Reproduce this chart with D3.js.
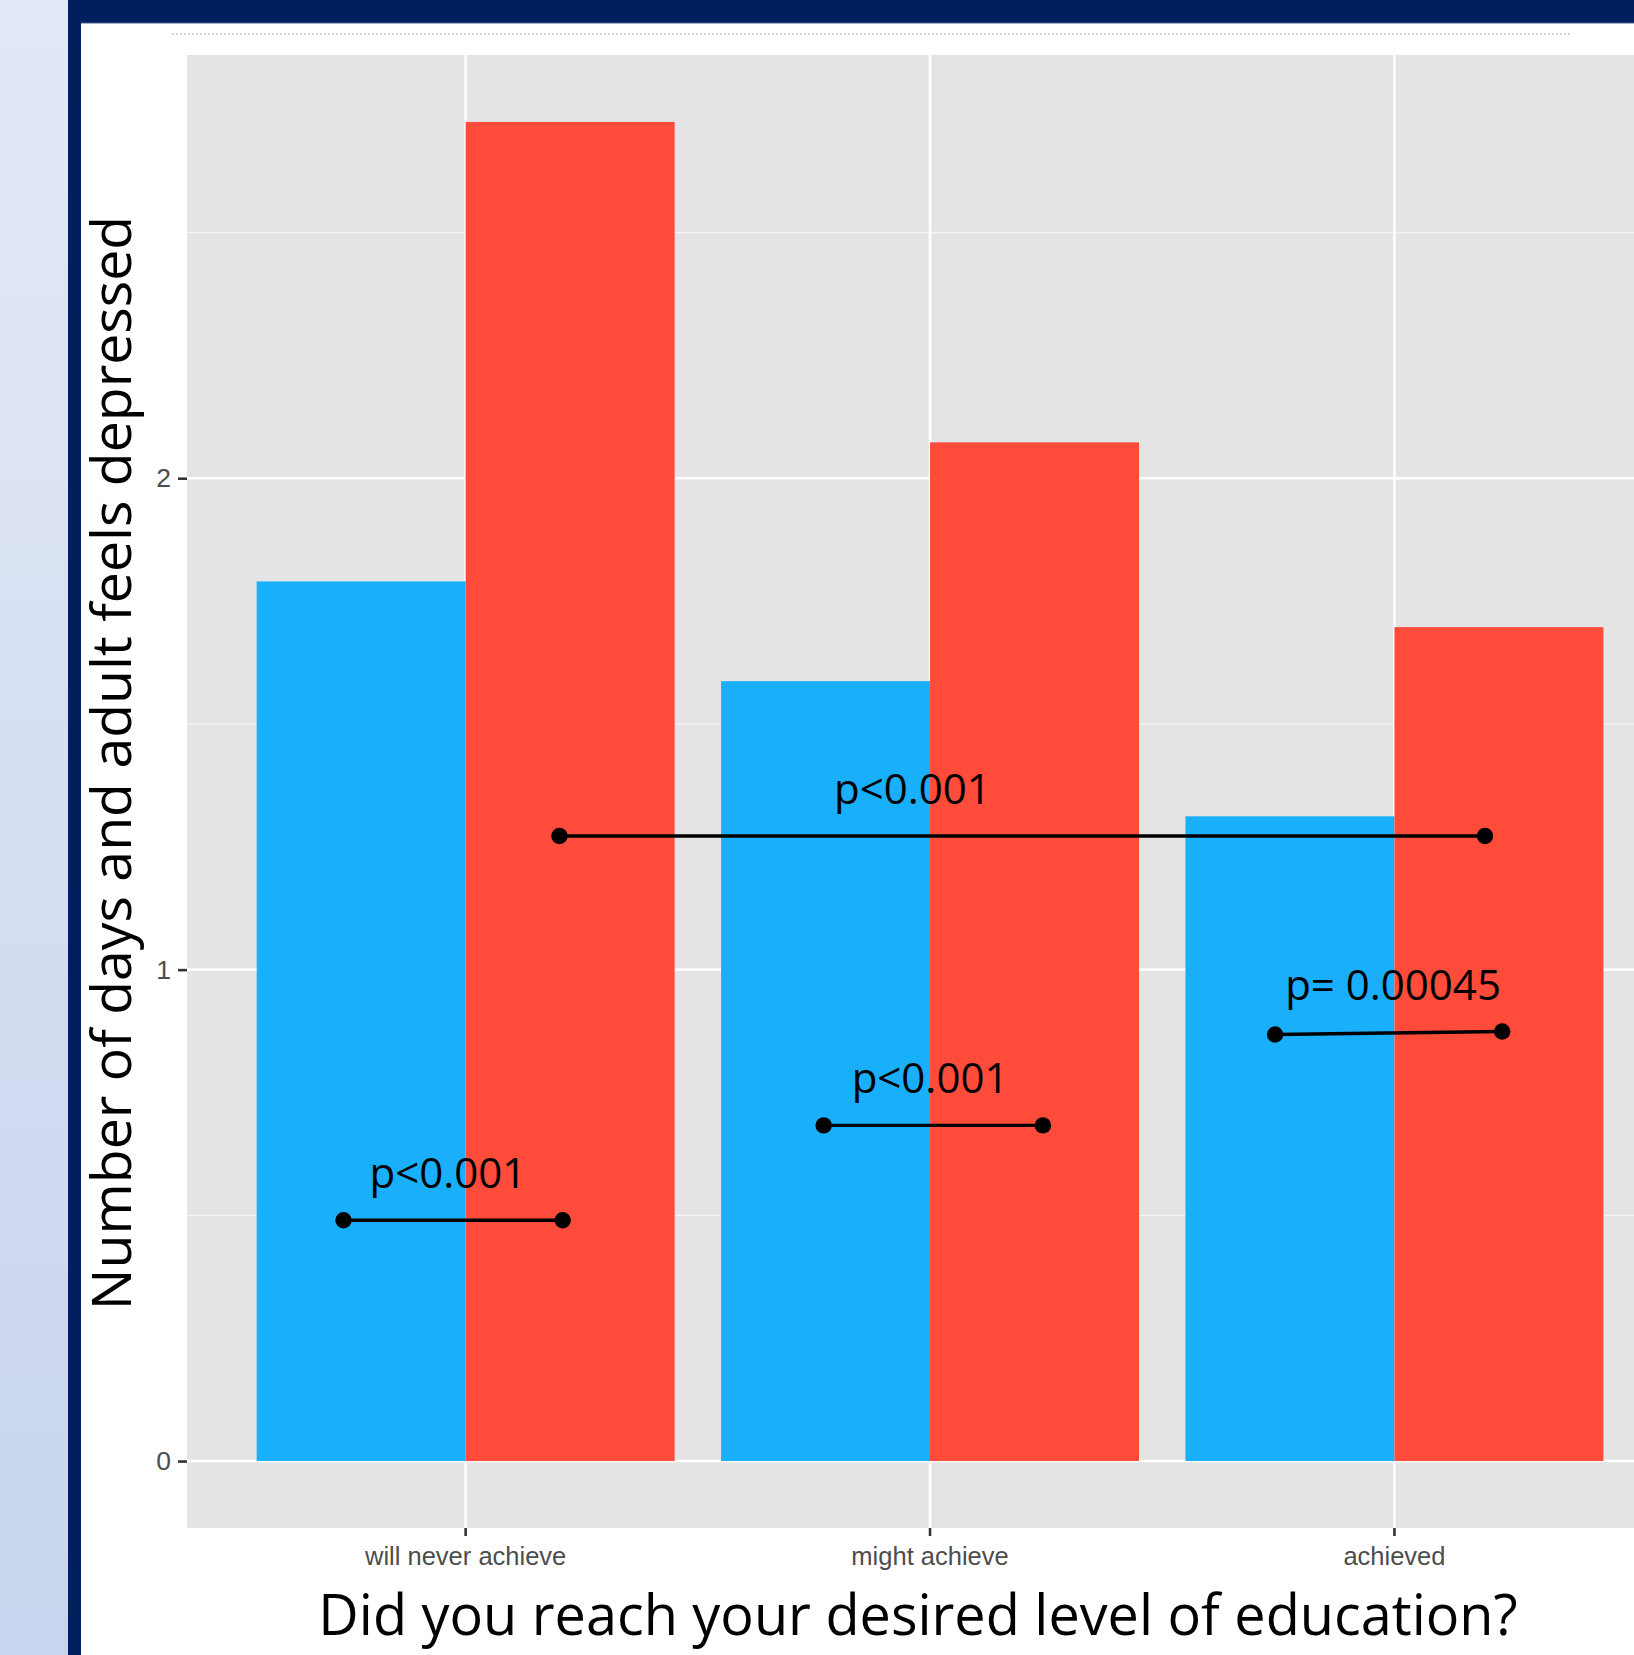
<!DOCTYPE html>
<html>
<head>
<meta charset="utf-8">
<script src="https://cdn.jsdelivr.net/npm/d3@7/dist/d3.min.js"></script>
<style>
  html, body { margin: 0; padding: 0; background: #ffffff; overflow: hidden; }
  svg { display: block; }
</style>
</head>
<body>
<svg id="chart" width="1634" height="1655"></svg>
<script>
// ---- data ----
const categories = ["will never achieve", "might achieve", "achieved"];
const seriesKeys = ["groupA", "groupB"];
const valuesA = [1.790, 1.587, 1.312];
const valuesB = [2.725, 2.073, 1.697];
const yMajorTicks = [0, 1, 2];
const yMinorTicks = [0.5, 1.5, 2.5];

// significance brackets: category index + offset (in category steps) and value
const sigLabels   = ["p<0.001", "p<0.001", "p= 0.00045", "p<0.001"];
const sigFromCat  = [0, 1, 2, 0];
const sigFromOff  = [-0.263, -0.229, -0.257, 0.202];
const sigFromVal  = [0.490, 0.683, 0.868, 1.272];
const sigToCat    = [0, 1, 2, 2];
const sigToOff    = [0.209, 0.243, 0.232, 0.195];
const sigToVal    = [0.490, 0.683, 0.874, 1.272];
const sigLabelCat = [0, 1, 2, 1];
const sigLabelOff = [-0.038, 0.000, -0.003, -0.038];

const yTitle = "Number of days and adult feels depressed";
const xTitle = "Did you reach your desired level of education?";

// ---- layout ----
const W = 1634, H = 1655;
const panel = { left: 187, top: 55, bottom: 1528 };
const catStep = 464.4;
panel.right = panel.left + 3.2 * catStep;

const colors = { groupA: "#19AFFA", groupB: "#FE4B3A" };
const navy = "#001F5C";

const svg = d3.select("#chart");

// page frame
const defs = svg.append("defs");
const grad = defs.append("linearGradient").attr("id", "sideGrad")
  .attr("x1", 0).attr("y1", 0).attr("x2", 0).attr("y2", 1);
grad.append("stop").attr("offset", "0%").attr("stop-color", "#E2E8F6");
grad.append("stop").attr("offset", "100%").attr("stop-color", "#C8D5EE");

svg.append("rect").attr("x", 0).attr("y", 0).attr("width", 68).attr("height", H)
  .attr("fill", "url(#sideGrad)");
svg.append("rect").attr("x", 68).attr("y", 0).attr("width", 13).attr("height", H)
  .attr("fill", navy);
svg.append("path")
  .attr("d", `M68,0 H${W} V23 H81 V${H} H68 V6 Q68,0 74,0 Z`)
  .attr("fill", navy);
svg.append("line").attr("x1", 81).attr("x2", W).attr("y1", 23).attr("y2", 23)
  .attr("stroke", "#4A5F8E").attr("stroke-width", 1);

// faint remnant line of clipped caption text
svg.append("line").attr("x1", 172).attr("x2", 1572).attr("y1", 34).attr("y2", 34)
  .attr("stroke", "#d2d2d2").attr("stroke-width", 2).attr("stroke-dasharray", "2,2");

// ---- scales ----
const yMax = d3.max(valuesB.concat(valuesA));
const yExp = 0.05 * yMax;
const y = d3.scaleLinear()
  .domain([-yExp, yMax + yExp])
  .range([panel.bottom, panel.top]);

const x = d3.scaleBand()
  .domain(categories)
  .range([panel.left, panel.right])
  .paddingInner(0.1)
  .paddingOuter(0.15);

const xSub = d3.scaleBand()
  .domain(seriesKeys)
  .range([0, x.bandwidth()]);

const catCenter = i => x(categories[i]) + x.bandwidth() / 2;
const xAt = (i, off) => catCenter(i) + off * x.step();

// ---- panel ----
const g = svg.append("g");
g.append("rect")
  .attr("x", panel.left).attr("y", panel.top)
  .attr("width", panel.right - panel.left).attr("height", panel.bottom - panel.top)
  .attr("fill", "#E4E4E4");

g.selectAll("line.minor").data(yMinorTicks).join("line")
  .attr("class", "minor")
  .attr("x1", panel.left).attr("x2", panel.right)
  .attr("y1", d => y(d)).attr("y2", d => y(d))
  .attr("stroke", "#F4F4F4").attr("stroke-width", 1.3);

g.selectAll("line.majorY").data(yMajorTicks).join("line")
  .attr("class", "majorY")
  .attr("x1", panel.left).attr("x2", panel.right)
  .attr("y1", d => y(d)).attr("y2", d => y(d))
  .attr("stroke", "#FFFFFF").attr("stroke-width", 2.6);

g.selectAll("line.majorX").data(categories).join("line")
  .attr("class", "majorX")
  .attr("x1", d => x(d) + x.bandwidth() / 2).attr("x2", d => x(d) + x.bandwidth() / 2)
  .attr("y1", panel.top).attr("y2", panel.bottom)
  .attr("stroke", "#FFFFFF").attr("stroke-width", 2.6);

// ---- bars ----
const rows = categories.map((c, i) => ({ cat: c, groupA: valuesA[i], groupB: valuesB[i] }));
g.selectAll("g.cat").data(rows).join("g")
  .attr("class", "cat")
  .attr("transform", d => `translate(${x(d.cat)},0)`)
  .selectAll("rect").data(d => seriesKeys.map(k => ({ key: k, value: d[k] }))).join("rect")
  .attr("x", d => xSub(d.key))
  .attr("width", xSub.bandwidth())
  .attr("y", d => y(d.value))
  .attr("height", d => y(0) - y(d.value))
  .attr("fill", d => colors[d.key]);

// ---- significance brackets ----
const sig = sigLabels.map((lab, i) => ({
  label: lab,
  x1: xAt(sigFromCat[i], sigFromOff[i]), y1: y(sigFromVal[i]),
  x2: xAt(sigToCat[i], sigToOff[i]), y2: y(sigToVal[i]),
  lx: xAt(sigLabelCat[i], sigLabelOff[i]),
  ly: y(Math.max(sigFromVal[i], sigToVal[i]))
}));

const sg = g.selectAll("g.sig").data(sig).join("g").attr("class", "sig");
sg.append("line")
  .attr("x1", d => d.x1).attr("y1", d => d.y1)
  .attr("x2", d => d.x2).attr("y2", d => d.y2)
  .attr("stroke", "#000").attr("stroke-width", 3.4);
sg.append("circle").attr("cx", d => d.x1).attr("cy", d => d.y1).attr("r", 8.2).attr("fill", "#000");
sg.append("circle").attr("cx", d => d.x2).attr("cy", d => d.y2).attr("r", 8.2).attr("fill", "#000");
sg.append("text")
  .attr("x", d => d.lx).attr("y", d => d.ly - 32)
  .attr("text-anchor", "middle")
  .attr("font-family", "'Open Sans', sans-serif")
  .attr("font-size", 42)
  .attr("fill", "#000")
  .text(d => d.label);

// ---- axes ----
const yAxis = svg.append("g")
  .attr("transform", `translate(${panel.left},0)`)
  .call(d3.axisLeft(y).tickValues(yMajorTicks).tickFormat(d3.format("d")).tickSize(9).tickPadding(7));
yAxis.select(".domain").remove();
yAxis.selectAll(".tick line").attr("stroke", "#333333").attr("stroke-width", 2.6);
yAxis.selectAll(".tick text")
  .attr("fill", "#4D4D4D")
  .attr("font-family", "'Liberation Sans', Arial, sans-serif")
  .attr("font-size", 26.5);

const xAxis = svg.append("g")
  .attr("transform", `translate(0,${panel.bottom})`)
  .call(d3.axisBottom(x).tickSize(8).tickPadding(11));
xAxis.select(".domain").remove();
xAxis.selectAll(".tick line").attr("stroke", "#333333").attr("stroke-width", 2.6);
xAxis.selectAll(".tick text")
  .attr("fill", "#4D4D4D")
  .attr("font-family", "'Liberation Sans', Arial, sans-serif")
  .attr("font-size", 25.5);

// ---- axis titles ----
svg.append("text")
  .attr("transform", `translate(131,${763}) rotate(-90)`)
  .attr("text-anchor", "middle")
  .attr("font-family", "'Open Sans', sans-serif")
  .attr("font-size", 55.4)
  .attr("fill", "#000")
  .text(yTitle);

svg.append("text")
  .attr("x", 918).attr("y", 1635)
  .attr("text-anchor", "middle")
  .attr("font-family", "'Open Sans', sans-serif")
  .attr("font-size", 55.8)
  .attr("fill", "#000")
  .text(xTitle);
</script>
</body>
</html>
